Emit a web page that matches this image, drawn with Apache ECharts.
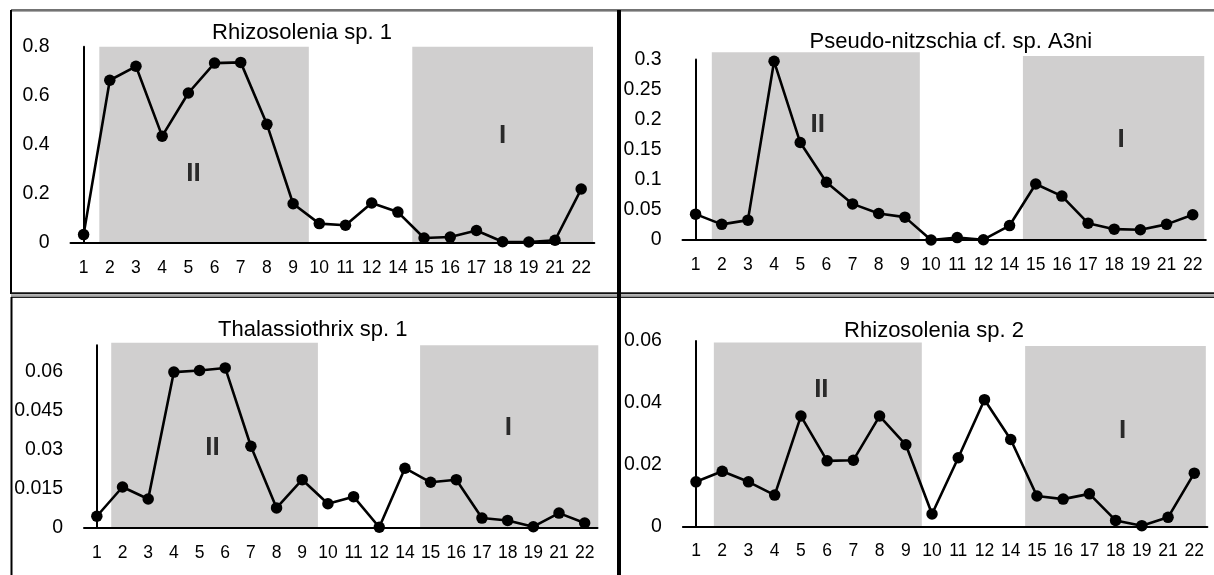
<!DOCTYPE html>
<html><head><meta charset="utf-8">
<script src="https://cdn.jsdelivr.net/npm/echarts@6/dist/echarts.min.js"></script>
<style>html,body{margin:0;padding:0;background:#fff}#c{width:1214px;height:575px}</style>
</head><body><div id="c"></div>
<script>
// ---- data ----
const categories = ['1','2','3','4','5','6','7','8','9','10','11','12','14','15','16','17','18','19','21','22'];
const titles = ['Rhizosolenia sp. 1', 'Pseudo-nitzschia cf. sp. A3ni', 'Thalassiothrix sp. 1', 'Rhizosolenia sp. 2'];
const rhizosolenia1 = [0.033, 0.663, 0.72, 0.435, 0.611, 0.733, 0.736, 0.483, 0.159, 0.078, 0.071, 0.162, 0.125, 0.019, 0.023, 0.05, 0.004, 0.003, 0.01, 0.219];
const pseudoNitzschia = [0.043, 0.026, 0.033, 0.297, 0.162, 0.096, 0.06, 0.044, 0.038, 0.0, 0.004, 0.0005, 0.024, 0.093, 0.073, 0.028, 0.018, 0.017, 0.026, 0.042];
const thalassiothrix1 = [0.0045, 0.0157, 0.0111, 0.0597, 0.0603, 0.0613, 0.0313, 0.0077, 0.0185, 0.0093, 0.012, 0.0003, 0.0229, 0.0175, 0.0185, 0.0038, 0.0029, 0.0005, 0.0057, 0.0019];
const rhizosolenia2 = [0.0144, 0.0178, 0.0144, 0.0101, 0.0357, 0.0212, 0.0214, 0.0357, 0.0264, 0.004, 0.0222, 0.041, 0.0281, 0.0098, 0.0088, 0.0105, 0.0019, 0.0002, 0.0029, 0.0172];
// y axis settings
const yMax = [0.8, 0.3, 0.07, 0.06];
const yInterval = [0.2, 0.05, 0.015, 0.02];
// shaded zones: [fromIndex, toIndex, top]
const zonesTL = [[0.6, 8.6, 0.8], [12.55, 19.45, 0.8]];
const zonesTR = [[0.62, 8.57, 0.312], [12.51, 19.44, 0.306]];
const zonesBL = [[0.56, 8.61, 0.0709], [12.59, 19.53, 0.07]];
const zonesBR = [[0.68, 8.61, 0.0595], [12.55, 19.44, 0.0584]];
// zone labels: [index, value, text]
const labelsTL = [[4.2, 0.28, 'II'], [16.0, 0.438, 'I']];
const labelsTR = [[4.67, 0.192, 'II'], [16.26, 0.167, 'I']];
const labelsBL = [[4.5, 0.0306, 'II'], [16.03, 0.0383, 'I']];
const labelsBR = [[4.78, 0.0443, 'II'], [16.27, 0.031, 'I']];

const values = [rhizosolenia1, pseudoNitzschia, thalassiothrix1, rhizosolenia2];
const zones = [zonesTL, zonesTR, zonesBL, zonesBR];
const zoneLabels = [labelsTL, labelsTR, labelsBL, labelsBR];

// ---- layout ----
const FONT = '"Liberation Sans", Arial, sans-serif';
const GRAY = '#d0cfcf';
const grids = [
  {left: 70.5, top: 46.7, width: 523.8, height: 196},
  {left: 682.5, top: 59.5, width: 523.3, height: 180.5},
  {left: 84, top: 345.2, width: 513.5, height: 182.8},
  {left: 682.9, top: 341, width: 524.5, height: 185.3}
];
const titlePos = [[302, 33], [950.8, 41.7], [312.8, 329.7], [934, 330.7]];

const xAxis = [], yAxis = [], series = [];
for (let i = 0; i < 4; i++) {
  xAxis.push({
    type: 'category', gridIndex: i, data: categories, boundaryGap: true, z: 5,
    axisLine: {lineStyle: {color: '#000', width: 2}},
    axisTick: {show: false},
    axisLabel: {color: '#000', fontSize: 17.5, fontFamily: FONT, margin: 16, interval: 0}
  });
}
for (let i = 0; i < 4; i++) {
  xAxis.push({type: 'value', gridIndex: i, min: -0.5, max: 19.5, show: false});
}
for (let i = 0; i < 4; i++) {
  yAxis.push({
    type: 'value', gridIndex: i, min: 0, max: yMax[i], interval: yInterval[i], z: 5,
    axisLine: {show: true, lineStyle: {color: '#000', width: 2}},
    axisTick: {show: false}, splitLine: {show: false},
    axisLabel: {color: '#000', fontSize: 19.5, fontFamily: FONT, margin: 21, showMaxLabel: i !== 2}
  });
  series.push({
    type: 'custom', xAxisIndex: 4 + i, yAxisIndex: i, z: 1, silent: true, clip: false,
    data: zones[i], encode: {x: [0, 1], y: 2},
    renderItem: function (params, api) {
      const p0 = api.coord([api.value(0), api.value(2)]);
      const p1 = api.coord([api.value(1), 0]);
      return {type: 'rect', shape: {x: p0[0], y: p0[1], width: p1[0] - p0[0], height: p1[1] - p0[1]}, style: {fill: GRAY}};
    }
  });
  series.push({
    type: 'line', xAxisIndex: i, yAxisIndex: i, z: 10, data: values[i],
    symbol: 'circle', symbolSize: 11.5, showAllSymbol: true,
    lineStyle: {color: '#000', width: 2.6}, itemStyle: {color: '#000'}
  });
  series.push({
    type: 'scatter', xAxisIndex: 4 + i, yAxisIndex: i, z: 8, silent: true,
    data: zoneLabels[i], symbolSize: 1, itemStyle: {color: 'rgba(0,0,0,0)'},
    label: {show: true, position: 'inside', formatter: p => p.data[2], color: '#000', fontSize: 26, fontWeight: 'bold', fontFamily: FONT}
  });
}

const graphic = [];
titles.forEach((t, i) => {
  graphic.push({type: 'text', x: titlePos[i][0], y: titlePos[i][1], z: 20,
    style: {text: t, fill: '#000', fontSize: 22, fontFamily: FONT, align: 'center', verticalAlign: 'middle'}});
});
function ln(x1, y1, x2, y2, stroke, w) {
  graphic.push({type: 'line', z: 30, shape: {x1, y1, x2, y2}, style: {stroke, lineWidth: w}});
}
ln(11, 10, 1214, 10, '#444', 1.5);
ln(11, 11.5, 1214, 11.5, '#aaa', 1.2);
ln(11, 10, 11, 294, '#000', 2);
ln(11, 293.3, 1214, 293.3, '#111', 2);
ln(11, 295.3, 1214, 295.3, '#aaa', 1.5);
ln(11, 297.3, 1214, 297.3, '#222', 1.5);
ln(11.5, 297, 11.5, 575, '#000', 2);
ln(619, 10, 619, 575, '#000', 4);

const chart = echarts.init(document.getElementById('c'));
chart.setOption({animation: false, backgroundColor: '#fff', grid: grids, xAxis, yAxis, series, graphic});
</script></body></html>
